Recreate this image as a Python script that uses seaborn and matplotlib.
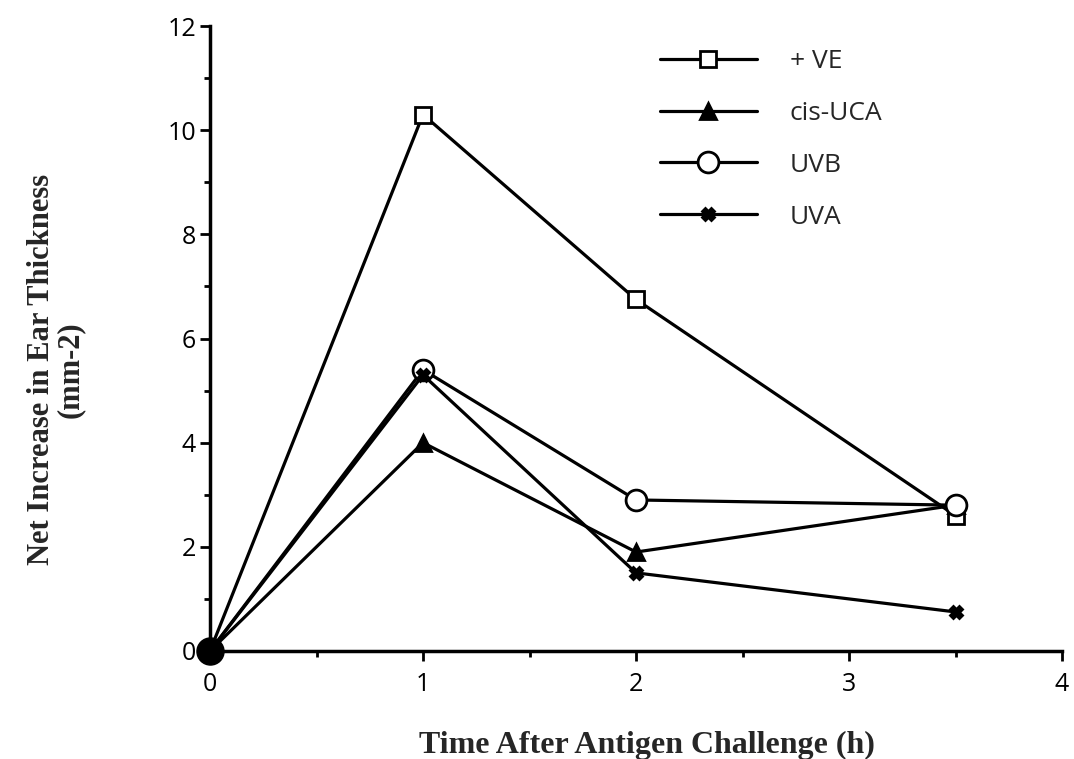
import matplotlib
matplotlib.use("Agg")
import matplotlib.pyplot as plt
import seaborn as sns
import pandas as pd
from matplotlib.ticker import MultipleLocator

sns.set_theme(style="ticks")
plt.rcParams['font.family'] = ['Open Sans', 'DejaVu Sans']

time = [0, 1, 2, 3.5]
series_names = ["+ VE", "cis-UCA", "UVB", "UVA"]
ve = [0, 10.3, 6.75, 2.6]
cis_uca = [0, 4.0, 1.9, 2.8]
uvb = [0, 5.4, 2.9, 2.8]
uva = [0, 5.3, 1.5, 0.75]
values = [ve, cis_uca, uvb, uva]
markers = ["s", "^", "o", "X"]
msizes = [12, 12, 15, 9]
mfc = ["white", "black", "white", "black"]

fig = plt.figure(figsize=(10.74, 7.59), dpi=100)
ax = fig.add_axes([210/1074, 1 - 651/759, 852/1074, 625/759])

for name, vals, mk, ms, fc in zip(series_names, values, markers, msizes, mfc):
    df = pd.DataFrame({"t": time, "v": vals})
    sns.lineplot(data=df, x="t", y="v", ax=ax, color="black", linewidth=2.3,
                 marker=mk, markersize=ms, markerfacecolor=fc,
                 markeredgecolor="black", markeredgewidth=2.0,
                 markevery=[1, 2, 3], label=name, clip_on=False)

ax.scatter([time[0]], [0], s=380, color="black", zorder=5, clip_on=False)

ax.set_xlim(0, 4)
ax.set_ylim(0, 12)
ax.xaxis.set_major_locator(MultipleLocator(1))
ax.xaxis.set_minor_locator(MultipleLocator(0.5))
ax.yaxis.set_major_locator(MultipleLocator(2))
ax.yaxis.set_minor_locator(MultipleLocator(1))
ax.tick_params(axis="both", which="major", direction="out", length=7, width=2,
               labelsize=18, color="black", labelcolor="black", pad=3)
ax.tick_params(axis="x", which="major", pad=8)
ax.tick_params(axis="both", which="minor", direction="out", length=4, width=2,
               color="black")
for s in ["top", "right"]:
    ax.spines[s].set_visible(False)
for s in ["left", "bottom"]:
    ax.spines[s].set_linewidth(2.5)
    ax.spines[s].set_color("black")

ax.set_xlabel("Time After Antigen Challenge (h)", family="Liberation Serif",
              fontweight="bold", fontsize=23)
ax.xaxis.set_label_coords(0.513, -0.128)
ax.set_ylabel("Net Increase in Ear Thickness\n(mm-2)", family="Liberation Serif",
              fontweight="bold", fontsize=22, linespacing=1.0)
ax.yaxis.set_label_coords(-0.147, 0.45)

leg = ax.legend(loc="upper left", bbox_to_anchor=(0.5065, 0.993), frameon=False,
                fontsize=19, handlelength=3.67, handletextpad=1.25, labelspacing=1.02,
                borderaxespad=0.3)

fig.savefig("out.png", dpi=100, facecolor="white")
